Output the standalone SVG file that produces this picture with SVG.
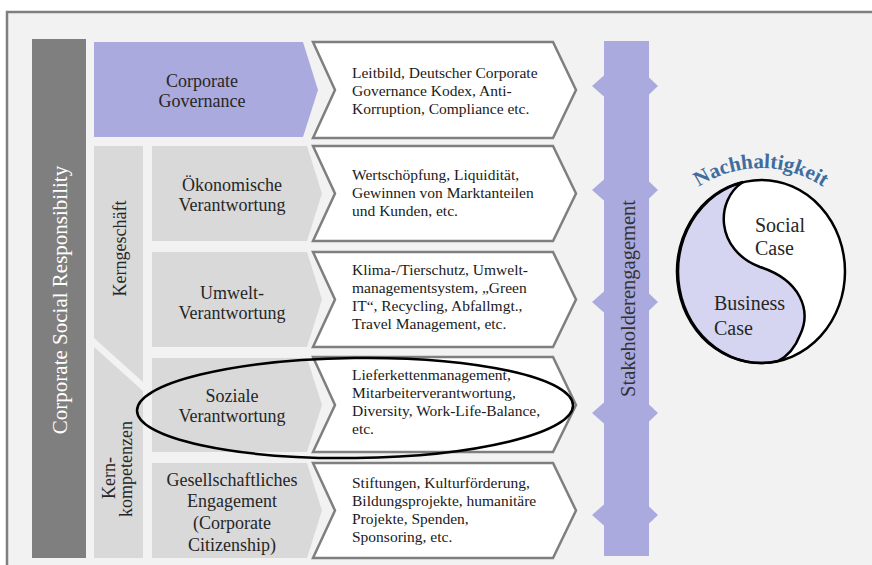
<svg xmlns="http://www.w3.org/2000/svg" width="872" height="565" viewBox="0 0 872 565">
<defs>
<style>
.serif{font-family:"Liberation Serif","Times New Roman",serif}
.lbl{font-family:"Liberation Serif","Times New Roman",serif;font-size:18px;fill:#262626;text-anchor:middle}
.desc{font-family:"Liberation Serif","Times New Roman",serif;font-size:15.5px;fill:#1a1a1a}
.chev{fill:#ffffff;stroke:#7f7f7f;stroke-width:2.5;stroke-linejoin:miter}
.gbox{fill:#d9d9d9}
.purple{fill:#aaaadf}
.bump{fill:#aaaadf}
</style>
<path id="arcN" d="M650.7,260.6 A112,112 0 0 1 871.3,260.6"/>
</defs>

<rect x="7" y="12" width="880" height="570" fill="#f2f2f2" stroke="#7f7f7f" stroke-width="2.5"/>

<g id="csr">
<rect x="32" y="39" width="54" height="519" fill="#7f7f7f"/>
<text class="serif" transform="translate(66.5,300) rotate(-90)" text-anchor="middle" font-size="21" fill="#ffffff">Corporate Social Responsibility</text>
</g>

<g id="kerngeschaeft">
<polygon class="gbox" points="94,146 143,146 143,382 94,338"/>
<text class="serif" transform="translate(126,248.5) rotate(-90)" text-anchor="middle" font-size="18" fill="#262626">Kerngeschäft</text>
</g>

<g id="kernkompetenzen">
<polygon class="gbox" points="94,347 143,391 143,558 94,558"/>
<text class="serif" transform="translate(115,478) rotate(-90)" text-anchor="middle" font-size="18" fill="#262626">Kern-</text>
<text class="serif" transform="translate(132,469) rotate(-90)" text-anchor="middle" font-size="18" fill="#262626">kompetenzen</text>
</g>

<g id="corporate-governance">
<polygon class="purple" points="94,42 303,42 318,90 303,137 94,137"/>
<text class="lbl" x="202" y="87">Corporate</text>
<text class="lbl" x="202" y="107">Governance</text>
</g>

<g id="oekonomische">
<polygon class="gbox" points="152,146 307,146 322,193.5 307,241 152,241"/>
<text class="lbl" x="232" y="191">Ökonomische</text>
<text class="lbl" x="232" y="211">Verantwortung</text>
</g>

<g id="umwelt">
<polygon class="gbox" points="152,252 307,252 322,299.5 307,347 152,347"/>
<text class="lbl" x="232" y="299">Umwelt-</text>
<text class="lbl" x="232" y="319">Verantwortung</text>
</g>

<g id="soziale">
<polygon class="gbox" points="152,358 307,358 322,405 307,452 152,452"/>
<text class="lbl" x="232" y="402">Soziale</text>
<text class="lbl" x="232" y="422">Verantwortung</text>
</g>

<g id="gesellschaftliches">
<polygon class="gbox" points="152,463 307,463 322,510.5 307,558 152,558"/>
<text class="lbl" x="232" y="486">Gesellschaftliches</text>
<text class="lbl" x="232" y="507">Engagement</text>
<text class="lbl" x="232" y="529">(Corporate</text>
<text class="lbl" x="232" y="551">Citizenship)</text>
</g>

<g id="desc-governance">
<polygon class="chev" points="313,42 553,42 576,90 553,138 313,138 335,90"/>
<text class="desc" x="352" y="78">Leitbild, Deutscher Corporate</text>
<text class="desc" x="352" y="96">Governance Kodex, Anti-</text>
<text class="desc" x="352" y="114">Korruption, Compliance etc.</text>
</g>

<g id="desc-oekonomisch">
<polygon class="chev" points="313,146 553,146 576,193.5 553,241 313,241 335,193.5"/>
<text class="desc" x="352" y="180">Wertschöpfung, Liquidität,</text>
<text class="desc" x="352" y="198">Gewinnen von Marktanteilen</text>
<text class="desc" x="352" y="216">und Kunden, etc.</text>
</g>

<g id="desc-umwelt">
<polygon class="chev" points="313,252 553,252 576,299.5 553,347 313,347 335,299.5"/>
<text class="desc" x="352" y="275">Klima-/Tierschutz, Umwelt-</text>
<text class="desc" x="352" y="293">managementsystem, „Green</text>
<text class="desc" x="352" y="311">IT“, Recycling, Abfallmgt.,</text>
<text class="desc" x="352" y="329">Travel Management, etc.</text>
</g>

<g id="desc-sozial">
<polygon class="chev" points="313,357 553,357 576,405 553,452 313,452 335,405"/>
<text class="desc" x="352" y="380">Lieferkettenmanagement,</text>
<text class="desc" x="352" y="398">Mitarbeiterverantwortung,</text>
<text class="desc" x="352" y="416">Diversity, Work-Life-Balance,</text>
<text class="desc" x="352" y="434">etc.</text>
</g>

<g id="desc-gesellschaft">
<polygon class="chev" points="313,463 553,463 576,510.5 553,558 313,558 335,510.5"/>
<text class="desc" x="352" y="488">Stiftungen, Kulturförderung,</text>
<text class="desc" x="352" y="506">Bildungsprojekte, humanitäre</text>
<text class="desc" x="352" y="524">Projekte, Spenden,</text>
<text class="desc" x="352" y="542">Sponsoring, etc.</text>
</g>

<g id="stakeholderengagement">
<rect x="604" y="41" width="45" height="515" fill="#aaaadf"/>
<text class="serif" transform="translate(635,298.5) rotate(-90)" text-anchor="middle" font-size="20.5" fill="#333333">Stakeholderengagement</text>
</g>

<g id="connectors">
<polygon class="bump" points="604.5,75 592,86 604.5,97"/>
<polygon class="bump" points="648.5,77 658,86 648.5,95"/>
<polygon class="bump" points="604.5,179 592,190 604.5,201"/>
<polygon class="bump" points="648.5,181 658,190 648.5,199"/>
<polygon class="bump" points="604.5,291 592,302 604.5,313"/>
<polygon class="bump" points="648.5,293 658,302 648.5,311"/>
<polygon class="bump" points="604.5,402 592,413 604.5,424"/>
<polygon class="bump" points="648.5,404 658,413 648.5,422"/>
<polygon class="bump" points="604.5,504 592,515 604.5,526"/>
<polygon class="bump" points="648.5,506 658,515 648.5,524"/>
</g>

<g id="nachhaltigkeit">
<ellipse cx="761.5" cy="271.5" rx="83.5" ry="91.5" fill="#ffffff"/>
<path d="M778,361 A83.5,91.5 0 1 1 743,182 C715,200 715,250 760,267 C800,280 812,310 800,335 C795,348 788,356 778,361 Z" fill="#d5d5f1" stroke="#000000" stroke-width="2.5"/>
<ellipse cx="761.5" cy="271.5" rx="83.5" ry="91.5" fill="none" stroke="#000000" stroke-width="2.5"/>
<text class="serif" x="755" y="232" font-size="20" fill="#262626">Social</text>
<text class="serif" x="755" y="255" font-size="20" fill="#262626">Case</text>
<text class="serif" x="714" y="310" font-size="20" fill="#262626">Business</text>
<text class="serif" x="714" y="335" font-size="20" fill="#262626">Case</text>
<text class="serif" font-size="21" font-weight="bold" fill="#3f6d9e"><textPath href="#arcN" startOffset="50%" text-anchor="middle">Nachhaltigkeit</textPath></text>
</g>

<g id="highlight">
<ellipse cx="355" cy="408" rx="218" ry="50" transform="rotate(-0.7 355 408)" fill="none" stroke="#000000" stroke-width="2.5"/>
</g>
</svg>
